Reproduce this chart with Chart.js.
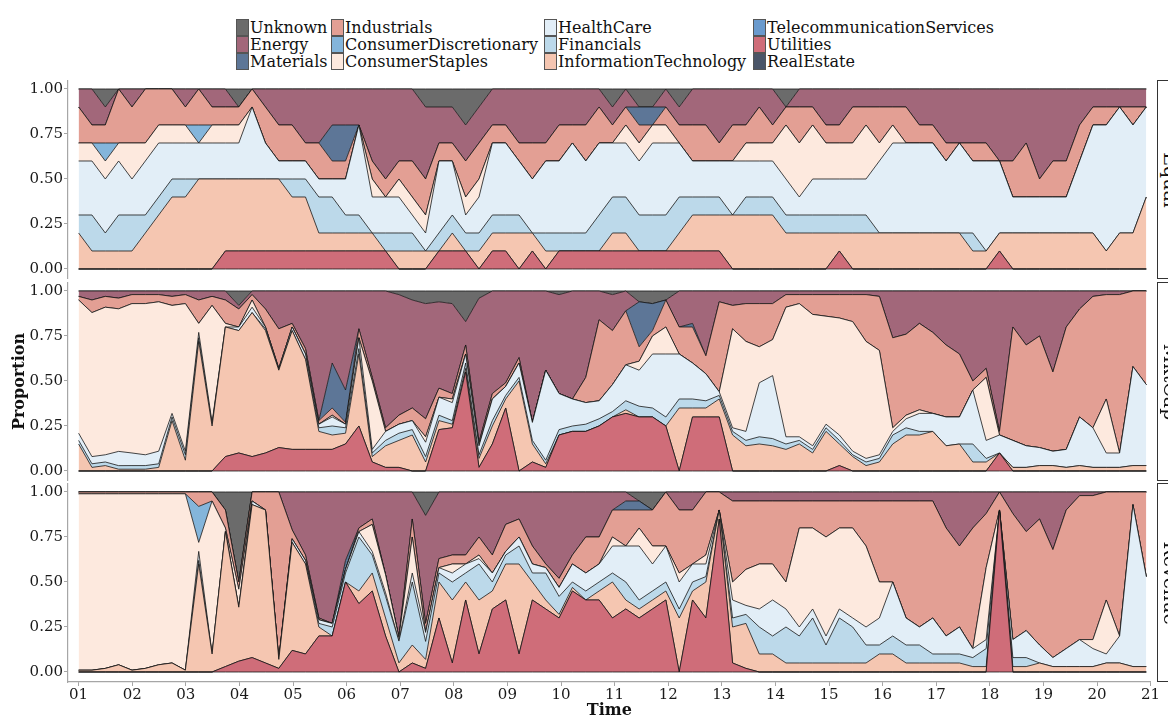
<!DOCTYPE html>
<html>
<head>
<meta charset="utf-8">
<script src="https://cdn.jsdelivr.net/npm/chart.js@4.4.0/dist/chart.umd.min.js"></script>
<style>
  body { margin: 0; width: 1168px; height: 717px; overflow: hidden; background: #fff; position: relative; font-family: "DejaVu Serif", serif; color: #111; }
  canvas { position: absolute; left: 0; }
  .item { position: absolute; height: 17px; line-height: 17px; font-size: 16px; white-space: nowrap; }
  .key { position: absolute; left: 0; top: 0; width: 11px; height: 15px; border: 1px solid #555; }
  .item span { position: absolute; left: 14px; top: 0; }
  .strip { position: absolute; left: 1157px; width: 26px; border: 1px solid #333; background: #fff; overflow: hidden; }
  .strip div { position: absolute; left: 50%; top: 50%; transform: translate(-50%, -50%) rotate(90deg); font-size: 19px; white-space: nowrap; }
</style>
</head>
<body>
<div id="legend"></div>
<canvas id="equal" width="1168" height="199" style="top:80px"></canvas>
<canvas id="mktcap" width="1168" height="199" style="top:282px"></canvas>
<canvas id="revenue" width="1168" height="237" style="top:483px"></canvas>
<div class="strip" style="top:80px;height:197px"><div>Equal</div></div>
<div class="strip" style="top:282px;height:197px"><div>MktCap</div></div>
<div class="strip" style="top:483px;height:197px"><div>Revenue</div></div>
<script>
// Sectors, top of the stack first (legend order)
const sectors = ["Unknown", "Energy", "Materials", "Industrials", "ConsumerDiscretionary",
  "ConsumerStaples", "HealthCare", "Financials", "InformationTechnology",
  "TelecommunicationServices", "Utilities", "RealEstate"];
const sectorColors = {
  Unknown: "#6b6b6b", Energy: "#a2677a", Materials: "#5d7697", Industrials: "#e39f94",
  ConsumerDiscretionary: "#84b5db", ConsumerStaples: "#fde9de", HealthCare: "#e2eef7",
  Financials: "#bcd9ea", InformationTechnology: "#f5c6b1", TelecommunicationServices: "#6a9acd",
  Utilities: "#cf6d79", RealEstate: "#4a5568",
};

const xTickYears = [2001, 2002, 2003, 2004, 2005, 2006, 2007, 2008, 2009, 2010, 2011,
  2012, 2013, 2014, 2015, 2016, 2017, 2018, 2019, 2020, 2021];
const xTickLabels = ["01", "02", "03", "04", "05", "06", "07", "08", "09", "10", "11",
  "12", "13", "14", "15", "16", "17", "18", "19", "20", "21"];
const yTickValues = [0, 0.25, 0.5, 0.75, 1];

// quarterly sampling, Jan 2001 .. Dec 2020
const times = Array.from({ length: 81 }, (_, i) => 2001 + i * 0.249);

// ---- Equal (number of stocks out of 10) ----
const eqUtilities = [0,0,0,0,0,0,0,0,0,0, 0,1,1,1,1,1,1,1,1,1, 1,1,1,1,0,0,0,1,1,1, 0,1,1,0,1,0,1,1,1,1, 1,1,1,1,1,1,1,1,1,0, 0,0,0,0,0,0,0,1,0,0, 0,0,0,0,0,0,0,0,0,1, 0,0,0,0,0,0,0,0,0,0, 0];
const eqInfoTech = [2,1,1,1,1,2,3,4,4,5, 5,4,4,4,4,4,3,3,1,1, 1,1,1,0,1,1,1,0,1,0, 1,1,1,2,1,1,0,0,0,0, 1,1,0,0,0,1,2,2,2,3, 3,3,3,2,2,2,2,1,2,2, 2,2,2,2,2,2,2,1,1,1, 2,2,2,2,2,2,2,1,2,2, 4];
const eqFinancials = [1,2,1,2,2,1,1,1,1,0, 0,0,0,0,0,0,1,1,2,2, 1,1,0,1,1,1,0,1,1,1, 1,1,1,1,0,1,1,1,1,2, 2,2,2,2,2,2,1,1,1,0, 1,1,1,1,1,1,1,1,1,1, 0,0,0,0,0,0,0,1,0,0, 0,0,0,0,0,0,0,0,0,0, 0];
const eqHealthCare = [3,3,3,3,2,3,3,2,2,2, 2,2,2,4,2,1,1,1,1,1, 2,5,2,2,2,1,1,4,3,1, 2,4,4,3,3,4,4,5,4,4, 3,3,3,4,4,3,2,2,2,3, 2,2,2,2,1,2,2,2,2,2, 4,5,5,5,5,4,5,4,5,4, 2,2,2,2,2,4,6,7,7,6, 5];
const eqStaples = [1,1,1,1,2,1,1,1,1,0, 1,1,1,0,0,0,0,0,0,0, 0,0,1,0,1,1,1,0,0,1, 1,0,0,0,0,0,0,0,0,0, 0,1,1,1,1,0,0,0,0,0, 1,1,1,3,3,3,2,2,2,3, 1,1,0,0,0,0,0,0,0,0, 0,0,0,0,0,0,0,0,0,0, 0];
const eqDiscretionary = { 2: 1, 9: 1 };
const eqIndustrials = [2,1,1,3,2,3,2,2,1,2, 1,1,1,1,2,2,2,1,2,1, 1,0,1,1,1,2,2,1,1,2, 2,1,1,1,2,1,2,1,2,2, 1,1,1,0,1,1,2,2,1,2, 1,2,1,1,2,1,1,1,2,1, 2,1,2,1,1,1,0,1,1,0, 2,3,1,2,2,2,1,1,0,1, 0];
const eqMaterials = { 19: 2, 20: 2, 42: 1, 43: 1 };
const eqEnergy = [1,2,1,0,1,0,0,0,1,0, 1,1,0,0,1,2,2,3,3,2, 2,2,4,5,4,4,4,2,2,2, 2,2,2,3,3,3,2,2,2,1, 1,1,0,0,1,1,2,2,3,2, 2,1,2,0,1,1,2,2,1,1, 1,1,1,2,2,3,3,3,3,4, 4,3,5,4,4,2,1,1,1,1, 1];
const eqUnknown = { 2: 1, 12: 1, 26: 1, 27: 1, 28: 1, 29: 2, 30: 1, 40: 1, 42: 1, 43: 1, 45: 1, 53: 1 };

// ---- MktCap (percent of market cap) ----
const mcUtilities = [0,0,0,0,0,0,0,0,0,0, 0,8,10,8,10,13,12,12,12,12, 15,25,5,2,2,0,0,23,24,55, 2,15,35,0,5,2,20,22,22,25, 30,32,30,30,25,0,30,30,30,0, 0,0,0,0,0,0,0,3,0,0, 0,0,0,0,0,0,0,0,0,10, 0,0,0,0,0,0,0,0,0,0, 0];
const mcInfoTech = [15,2,3,1,1,1,2,28,6,72, 25,72,68,80,68,43,66,50,10,8, 6,40,3,12,15,20,5,5,2,2, 5,10,5,50,10,2,0,0,0,0, 0,2,0,0,0,35,5,5,10,20, 14,15,14,12,15,10,22,12,8,3, 5,15,20,20,22,14,15,5,5,0, 2,2,3,3,2,3,2,2,2,3, 3];
const mcFinancials = [2,2,2,2,2,2,2,2,3,2, 1,0,0,0,1,0,0,0,2,5, 3,3,2,3,4,3,3,3,2,3, 2,3,2,2,2,2,3,3,4,4, 3,5,6,5,5,5,5,4,2,2, 3,4,4,3,2,2,2,2,1,2, 2,5,4,2,0,0,0,10,2,0, 0,0,0,0,0,0,0,0,0,0, 0];
const mcHealthCare = [4,4,4,8,7,6,7,2,2,3, 1,0,2,3,1,1,2,3,2,5, 2,6,2,5,5,5,8,10,10,5, 5,12,5,8,10,50,20,15,12,10, 15,20,20,30,35,25,20,15,2,2, 5,30,35,4,2,2,2,3,2,2, 2,2,5,10,10,16,15,30,10,10, 15,12,10,8,10,27,22,8,8,55, 45];
const mcStaples = [74,80,82,80,83,84,83,60,82,5, 65,2,0,4,0,0,0,0,0,1, 0,0,38,0,0,0,3,0,2,0, 0,0,0,0,0,0,0,0,0,0, 0,0,5,10,15,0,0,0,0,55, 50,20,20,72,74,73,60,65,72,65, 58,2,2,2,0,0,0,0,35,0, 0,0,0,0,0,0,0,30,0,0, 0];
const mcIndustrials = [2,7,6,6,5,5,4,5,5,13, 5,13,10,3,10,22,2,3,2,4, 1,5,2,2,5,7,10,5,3,5, 2,3,2,3,0,0,0,0,14,45, 30,30,8,3,15,15,20,10,50,13, 21,24,20,7,5,11,12,13,15,26, 30,50,45,48,45,40,35,5,5,2, 63,56,62,44,68,60,73,58,88,42, 52];
const mcMaterials = { 19: 25, 20: 18, 42: 25, 43: 15, 46: 2 };
const mcEnergy = [3,5,3,4,2,2,2,3,2,5, 3,5,2,2,10,21,18,32,72,40, 55,21,48,76,67,60,64,48,50,13, 80,57,51,37,73,44,55,60,48,16, 20,11,0,0,0,20,18,36,6,8, 7,7,7,2,2,2,2,2,2,2, 3,26,24,18,23,30,35,50,43,78, 20,30,25,45,20,10,3,2,2,0, 0];
const mcUnknown = { 12: 8, 24: 2, 25: 5, 26: 7, 27: 6, 28: 7, 29: 17, 30: 4, 36: 2, 40: 2, 42: 6, 43: 7, 44: 5 };

// ---- Revenue (percent of revenue) ----
const rvUtilities = [0,0,0,0,0,0,0,0,0,0, 0,3,6,8,5,2,12,10,20,20, 50,38,45,20,0,5,2,30,5,40, 10,35,40,10,40,35,30,45,40,40, 30,35,30,35,40,0,40,30,85,5, 2,0,0,0,0,0,0,0,0,0, 0,0,0,0,0,0,0,0,0,90, 0,0,0,0,0,0,0,0,0,0, 0];
const rvInfoTech = [1,1,2,4,1,2,4,5,1,60, 10,75,30,85,85,5,60,50,5,0, 0,7,10,10,5,10,5,20,35,10, 30,10,20,50,10,5,2,2,0,5, 20,5,5,5,5,30,5,20,5,20, 25,10,10,5,5,5,5,5,5,5, 10,10,5,5,5,5,5,3,3,0, 3,3,5,3,3,3,3,5,5,3, 3];
const rvFinancials = [0,0,0,0,0,0,0,0,0,2, 0,0,0,0,0,0,0,0,2,5, 5,30,10,12,12,35,10,5,10,5, 20,5,5,10,5,15,10,3,5,5, 5,10,5,5,5,5,5,3,0,5, 5,15,10,20,15,25,10,25,20,10, 5,10,10,10,5,5,5,5,10,0, 5,5,0,0,0,0,0,0,0,0, 0];
const rvHealthCare = [0,0,0,0,0,0,0,0,0,5, 0,0,0,2,0,0,2,2,2,2, 2,3,2,2,0,5,5,3,5,5, 3,5,2,5,5,3,5,10,10,10, 15,20,30,15,20,15,10,7,0,10, 5,10,20,10,5,5,5,5,5,10, 15,30,15,10,20,10,15,5,5,0, 10,15,10,5,10,15,10,5,15,90, 50];
const rvStaples = [98,98,97,95,98,97,95,94,98,5, 85,2,10,0,0,0,0,0,0,0, 0,0,15,10,2,20,0,0,5,0, 2,0,0,0,0,0,0,0,0,0, 5,0,10,10,0,5,0,5,0,10, 20,25,20,15,55,45,55,45,50,45, 20,0,0,0,0,0,0,0,40,0, 0,0,0,0,0,0,5,30,0,0, 0];
const rvDiscretionary = { 9: 20 };
const rvIndustrials = [1,1,1,1,1,1,1,1,1,8, 5,10,4,5,10,93,5,3,1,0, 0,2,3,0,0,10,5,5,5,5, 10,10,15,10,10,2,5,5,20,15, 15,20,10,20,30,35,30,35,10,45, 38,35,35,45,15,15,20,15,15,25, 45,45,65,70,65,60,45,67,30,10, 70,55,70,60,77,80,80,60,80,7, 47];
const rvMaterials = { 20: 5, 41: 5, 42: 5 };
const rvEnergy = [0,0,0,0,0,0,0,0,0,0, 0,0,0,0,0,0,21,35,70,73, 38,20,15,46,80,15,60,37,35,35, 25,35,18,15,30,40,48,35,25,25, 10,5,0,0,0,10,10,0,0,5, 5,5,5,5,5,5,5,5,5,5, 5,5,5,5,5,20,30,20,12,0, 12,22,15,32,10,2,2,0,0,0, 0];
const rvUnknown = { 11: 10, 12: 50, 26: 13, 42: 5, 43: 10 };

const equalSeries = {
  Unknown: eqUnknown, Energy: eqEnergy, Materials: eqMaterials, Industrials: eqIndustrials,
  ConsumerDiscretionary: eqDiscretionary, ConsumerStaples: eqStaples, HealthCare: eqHealthCare,
  Financials: eqFinancials, InformationTechnology: eqInfoTech, TelecommunicationServices: {},
  Utilities: eqUtilities, RealEstate: {},
};
const mktcapSeries = {
  Unknown: mcUnknown, Energy: mcEnergy, Materials: mcMaterials, Industrials: mcIndustrials,
  ConsumerDiscretionary: {}, ConsumerStaples: mcStaples, HealthCare: mcHealthCare,
  Financials: mcFinancials, InformationTechnology: mcInfoTech, TelecommunicationServices: {},
  Utilities: mcUtilities, RealEstate: {},
};
const revenueSeries = {
  Unknown: rvUnknown, Energy: rvEnergy, Materials: rvMaterials, Industrials: rvIndustrials,
  ConsumerDiscretionary: rvDiscretionary, ConsumerStaples: rvStaples, HealthCare: rvHealthCare,
  Financials: rvFinancials, InformationTechnology: rvInfoTech, TelecommunicationServices: {},
  Utilities: rvUtilities, RealEstate: {},
};

const FONT = "'DejaVu Serif', serif";
const AXIS_GREY = "#a6a6a6";

function valueAt(values, i) {
  return Array.isArray(values) ? values[i] : values[i] || 0;
}

function buildDatasets(series) {
  const totals = times.map((_, i) =>
    sectors.reduce((sum, name) => sum + valueAt(series[name], i), 0)
  );
  // bottom of the stack first
  return sectors.slice().reverse().map((name, idx) => ({
    label: name,
    data: times.map((t, i) => ({ x: t, y: valueAt(series[name], i) / totals[i] })),
    backgroundColor: sectorColors[name],
    borderColor: "#151515",
    borderWidth: 0.8,
    pointRadius: 0,
    tension: 0,
    fill: idx === 0 ? "origin" : "-1",
  }));
}

function makePanel(canvasId, series, showX, showYTitle) {
  const ctx = document.getElementById(canvasId).getContext("2d");
  return new Chart(ctx, {
    type: "line",
    data: { datasets: buildDatasets(series) },
    options: {
      responsive: false,
      animation: false,
      devicePixelRatio: 1,
      layout: { padding: { left: 0, right: 17.4, top: 0, bottom: 0 } },
      plugins: { legend: { display: false }, tooltip: { enabled: false } },
      scales: {
        x: {
          type: "linear",
          min: 2000.802,
          max: 2021,
          display: showX,
          afterBuildTicks: (s) => { s.ticks = xTickYears.map((v) => ({ value: v })); },
          afterFit: (s) => {
            if (showX) s.height = 38;
            s.paddingLeft = 0;
            s.paddingRight = 0;
          },
          ticks: {
            autoSkip: false, maxRotation: 0, padding: 0, color: "#1a1a1a",
            font: { family: FONT, size: 15 },
            callback: (v, i) => xTickLabels[i],
          },
          grid: { drawOnChartArea: false, tickLength: 4, color: AXIS_GREY },
          border: { color: AXIS_GREY, width: 1.2 },
          title: {
            display: true, text: "Time", color: "#111",
            font: { family: FONT, size: 16, weight: "bold" },
            padding: { top: 0, bottom: 0 },
          },
        },
        y: {
          stacked: true,
          min: -0.0556,
          max: 1.05,
          afterBuildTicks: (s) => { s.ticks = yTickValues.map((v) => ({ value: v })); },
          afterFit: (s) => {
            s.width = 68;
            s.paddingTop = 0;
            s.paddingBottom = 0;
          },
          ticks: {
            padding: 1, color: "#1a1a1a",
            font: { family: FONT, size: 15 },
            callback: (v) => v.toFixed(2),
          },
          grid: { drawOnChartArea: false, tickLength: 4, color: AXIS_GREY },
          border: { color: AXIS_GREY, width: 1.2 },
          title: {
            display: showYTitle, text: "Proportion", color: "#111",
            font: { family: FONT, size: 16, weight: "bold" },
            padding: { top: 10, bottom: 0 },
          },
        },
      },
    },
  });
}

function buildLegend() {
  const colX = [236, 331, 544, 753];
  const rowY = [19, 36, 53];
  const legend = document.getElementById("legend");
  sectors.forEach((name, i) => {
    const item = document.createElement("div");
    item.className = "item";
    item.style.left = colX[Math.floor(i / 3)] + "px";
    item.style.top = rowY[i % 3] + "px";
    item.innerHTML = `<div class="key" style="background:${sectorColors[name]}"></div><span>${name}</span>`;
    legend.appendChild(item);
  });
}

buildLegend();
makePanel("equal", equalSeries, false, false);
makePanel("mktcap", mktcapSeries, false, true);
makePanel("revenue", revenueSeries, true, false);
</script>
</body>
</html>
